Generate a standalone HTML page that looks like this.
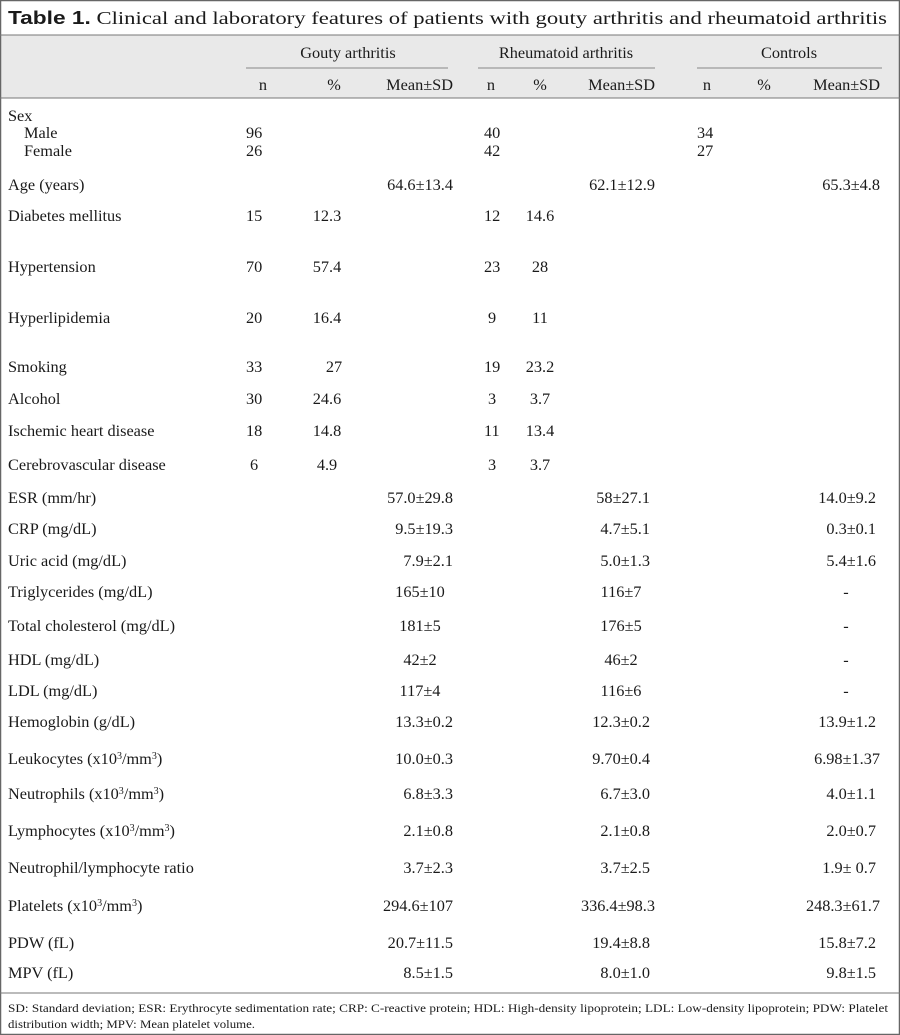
<!DOCTYPE html>
<html><head><meta charset="utf-8"><style>
html,body{margin:0;padding:0;background:#fff}
svg{display:block}
text{font-family:"Liberation Serif",serif;font-size:16.3px;fill:#1a1a1a}
.f{font-size:12px}
.e{text-anchor:end}
.m{text-anchor:middle}
</style></head><body>
<svg width="900" height="1035" viewBox="0 0 900 1035" xmlns="http://www.w3.org/2000/svg">
<rect x="0" y="0" width="900" height="1035" fill="#fff"/>
<rect x="0" y="35" width="900" height="63" fill="#e9e9e9"/>
<rect x="0.5" y="0.5" width="899" height="1034" fill="none" stroke="#666" stroke-width="1.5"/>
<line x1="0" y1="35" x2="900" y2="35" stroke="#777" stroke-width="1"/>
<line x1="0" y1="98" x2="900" y2="98" stroke="#777" stroke-width="1"/>
<line x1="0" y1="993" x2="900" y2="993" stroke="#777" stroke-width="1"/>
<line x1="246" y1="68" x2="448" y2="68" stroke="#888"/>
<line x1="478" y1="68" x2="655" y2="68" stroke="#888"/>
<line x1="697" y1="68" x2="882" y2="68" stroke="#888"/>

<text x="8" y="24" style="font-size:18px" textLength="879" lengthAdjust="spacingAndGlyphs"><tspan style="font-weight:bold;font-family:'Liberation Sans',sans-serif">Table 1.</tspan> Clinical and laboratory features of patients with gouty arthritis and rheumatoid arthritis</text>

<text x="348" y="58" class="m">Gouty arthritis</text>
<text x="566" y="58" class="m">Rheumatoid arthritis</text>
<text x="789" y="58" class="m">Controls</text>
<text x="263" y="90" class="m">n</text><text x="334" y="90" class="m">%</text><text x="453" y="90" class="e">Mean±SD</text>
<text x="491" y="90" class="m">n</text><text x="540" y="90" class="m">%</text><text x="655" y="90" class="e">Mean±SD</text>
<text x="707" y="90" class="m">n</text><text x="764" y="90" class="m">%</text><text x="880" y="90" class="e">Mean±SD</text>

<g>
<text x="8" y="121">Sex</text>
<text x="24" y="138">Male</text><text x="246" y="138">96</text><text x="484" y="138">40</text><text x="697" y="138">34</text>
<text x="24" y="156">Female</text><text x="246" y="156">26</text><text x="484" y="156">42</text><text x="697" y="156">27</text>
<text x="8" y="190">Age (years)</text><text x="453" y="190" class="e">64.6±13.4</text><text x="655" y="190" class="e">62.1±12.9</text><text x="880" y="190" class="e">65.3±4.8</text>

<text x="8" y="221">Diabetes mellitus</text><text x="246" y="221">15</text><text x="327" y="221" class="m">12.3</text><text x="484" y="221">12</text><text x="540" y="221" class="m">14.6</text>
<text x="8" y="272">Hypertension</text><text x="246" y="272">70</text><text x="327" y="272" class="m">57.4</text><text x="484" y="272">23</text><text x="540" y="272" class="m">28</text>
<text x="8" y="323">Hyperlipidemia</text><text x="246" y="323">20</text><text x="327" y="323" class="m">16.4</text><text x="488" y="323">9</text><text x="540" y="323" class="m">11</text>
<text x="8" y="372">Smoking</text><text x="246" y="372">33</text><text x="334" y="372" class="m">27</text><text x="484" y="372">19</text><text x="540" y="372" class="m">23.2</text>
<text x="8" y="404">Alcohol</text><text x="246" y="404">30</text><text x="327" y="404" class="m">24.6</text><text x="488" y="404">3</text><text x="540" y="404" class="m">3.7</text>
<text x="8" y="436">Ischemic heart disease</text><text x="246" y="436">18</text><text x="327" y="436" class="m">14.8</text><text x="484" y="436">11</text><text x="540" y="436" class="m">13.4</text>
<text x="8" y="470">Cerebrovascular disease</text><text x="250" y="470">6</text><text x="327" y="470" class="m">4.9</text><text x="488" y="470">3</text><text x="540" y="470" class="m">3.7</text>

<text x="8" y="503">ESR (mm/hr)</text><text x="453" y="503" class="e">57.0±29.8</text><text x="650" y="503" class="e">58±27.1</text><text x="876" y="503" class="e">14.0±9.2</text>
<text x="8" y="534">CRP (mg/dL)</text><text x="453" y="534" class="e">9.5±19.3</text><text x="650" y="534" class="e">4.7±5.1</text><text x="876" y="534" class="e">0.3±0.1</text>
<text x="8" y="566">Uric acid (mg/dL)</text><text x="453" y="566" class="e">7.9±2.1</text><text x="650" y="566" class="e">5.0±1.3</text><text x="876" y="566" class="e">5.4±1.6</text>
<text x="8" y="597">Triglycerides (mg/dL)</text><text x="420" y="597" class="m">165±10</text><text x="621" y="597" class="m">116±7</text><text x="846" y="597" class="m">-</text>
<text x="8" y="631">Total cholesterol (mg/dL)</text><text x="420" y="631" class="m">181±5</text><text x="621" y="631" class="m">176±5</text><text x="846" y="631" class="m">-</text>
<text x="8" y="665">HDL (mg/dL)</text><text x="420" y="665" class="m">42±2</text><text x="621" y="665" class="m">46±2</text><text x="846" y="665" class="m">-</text>
<text x="8" y="696">LDL (mg/dL)</text><text x="420" y="696" class="m">117±4</text><text x="621" y="696" class="m">116±6</text><text x="846" y="696" class="m">-</text>
<text x="8" y="727">Hemoglobin (g/dL)</text><text x="453" y="727" class="e">13.3±0.2</text><text x="650" y="727" class="e">12.3±0.2</text><text x="876" y="727" class="e">13.9±1.2</text>
<text x="8" y="764">Leukocytes (x10<tspan dy="-5" style="font-size:10px">3</tspan><tspan dy="5">/mm</tspan><tspan dy="-5" style="font-size:10px">3</tspan><tspan dy="5">)</tspan></text><text x="453" y="764" class="e">10.0±0.3</text><text x="650" y="764" class="e">9.70±0.4</text><text x="880" y="764" class="e">6.98±1.37</text>
<text x="8" y="799">Neutrophils (x10<tspan dy="-5" style="font-size:10px">3</tspan><tspan dy="5">/mm</tspan><tspan dy="-5" style="font-size:10px">3</tspan><tspan dy="5">)</tspan></text><text x="453" y="799" class="e">6.8±3.3</text><text x="650" y="799" class="e">6.7±3.0</text><text x="876" y="799" class="e">4.0±1.1</text>
<text x="8" y="836">Lymphocytes (x10<tspan dy="-5" style="font-size:10px">3</tspan><tspan dy="5">/mm</tspan><tspan dy="-5" style="font-size:10px">3</tspan><tspan dy="5">)</tspan></text><text x="453" y="836" class="e">2.1±0.8</text><text x="650" y="836" class="e">2.1±0.8</text><text x="876" y="836" class="e">2.0±0.7</text>
<text x="8" y="873">Neutrophil/lymphocyte ratio</text><text x="453" y="873" class="e">3.7±2.3</text><text x="650" y="873" class="e">3.7±2.5</text><text x="876" y="873" class="e">1.9± 0.7</text>
<text x="8" y="911">Platelets (x10<tspan dy="-5" style="font-size:10px">3</tspan><tspan dy="5">/mm</tspan><tspan dy="-5" style="font-size:10px">3</tspan><tspan dy="5">)</tspan></text><text x="453" y="911" class="e">294.6±107</text><text x="655" y="911" class="e">336.4±98.3</text><text x="880" y="911" class="e">248.3±61.7</text>
<text x="8" y="948">PDW (fL)</text><text x="453" y="948" class="e">20.7±11.5</text><text x="650" y="948" class="e">19.4±8.8</text><text x="876" y="948" class="e">15.8±7.2</text>
<text x="8" y="978">MPV (fL)</text><text x="453" y="978" class="e">8.5±1.5</text><text x="650" y="978" class="e">8.0±1.0</text><text x="876" y="978" class="e">9.8±1.5</text>
</g>

<text x="8" y="1012" class="f" textLength="880" lengthAdjust="spacingAndGlyphs">SD: Standard deviation; ESR: Erythrocyte sedimentation rate; CRP: C-reactive protein; HDL: High-density lipoprotein; LDL: Low-density lipoprotein; PDW: Platelet</text>
<text x="8" y="1028" class="f" textLength="247" lengthAdjust="spacingAndGlyphs">distribution width; MPV: Mean platelet volume.</text>
</svg>
</body></html>
